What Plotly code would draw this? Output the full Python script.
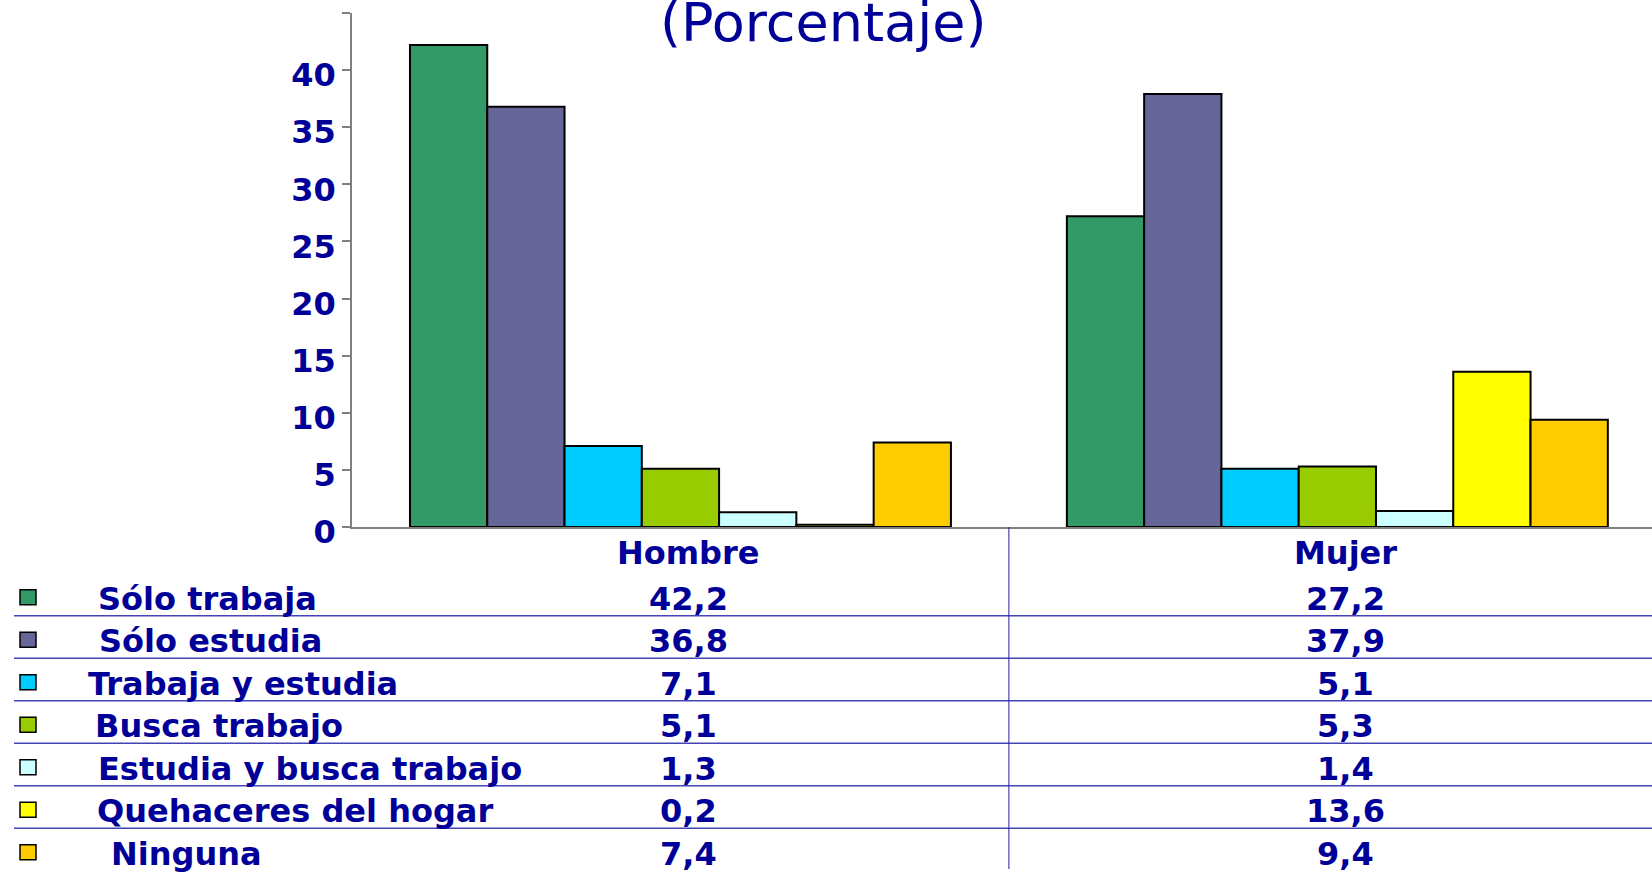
import plotly.graph_objects as go

# ---------------- data ----------------
categories = ["Hombre", "Mujer"]
series_names = ["Sólo trabaja", "Sólo estudia", "Trabaja y estudia", "Busca trabajo",
                "Estudia y busca trabajo", "Quehaceres del hogar", "Ninguna"]
hombre = [42.2, 36.8, 7.1, 5.1, 1.3, 0.2, 7.4]
mujer = [27.2, 37.9, 5.1, 5.3, 1.4, 13.6, 9.4]
y_tick_vals = [0, 5, 10, 15, 20, 25, 30, 35, 40, 45]
y_tick_text = ["0", "5", "10", "15", "20", "25", "30", "35", "40", ""]
title_text = "(Porcentaje)"

# ---------------- style ----------------
colors = ["#339966", "#666699", "#00CCFF", "#99CC00", "#CCFFFF", "#FFFF00", "#FFCC00"]
label_x_px = [99, 100, 89, 96, 99, 98, 112]   # left edge of each row label (px)
NAVY = "#000099"
FONT = "DejaVu Sans"
W, H = 1652, 873
PLOT_L, PLOT_R, PLOT_T, PLOT_B = 352, 1652, 13, 527
CAT_STEP = 656.9                 # px between category centres
ROW0, ROW_STEP = 610.0, 42.5     # baseline of first table row, row spacing
FS = 32
TITLE_FS = 54


def px(x):
    return x / W


def py(y):
    return 1 - y / H


fig = go.Figure()
for i, name in enumerate(series_names):
    fig.add_trace(go.Bar(
        name=name, x=categories, y=[hombre[i], mujer[i]],
        marker=dict(color=colors[i], line=dict(color="black", width=2)),
        showlegend=False, hoverinfo="skip"))

x_end = -0.5 + (PLOT_R - PLOT_L) / CAT_STEP

annotations = []
shapes = []

# title (its first line lies above the visible area in the original)
annotations.append(dict(text=title_text, x=px(823), y=py(41 - 0.346 * TITLE_FS),
                        xref="paper", yref="paper", xanchor="center", yanchor="middle",
                        showarrow=False, font=dict(family=FONT, size=TITLE_FS, color=NAVY)))

bold = dict(family=FONT, size=FS, color=NAVY, weight="bold")
for k, name in enumerate(series_names):
    base = ROW0 + ROW_STEP * k
    yc = py(base - 0.346 * FS)
    annotations.append(dict(text=name, x=px(label_x_px[k] - 3), y=yc, xref="paper", yref="paper",
                            xanchor="left", yanchor="middle", showarrow=False, font=bold))
    for j, vals in enumerate([hombre, mujer]):
        annotations.append(dict(text=f"{vals[k]:.1f}".replace(".", ","), x=j, xshift=8, y=yc,
                                xref="x", yref="paper", xanchor="center", yanchor="middle",
                                showarrow=False, font=bold))
    # legend key square
    sq = base - 12.7
    shapes.append(dict(type="rect", xref="paper", yref="paper",
                       x0=px(20), x1=px(36), y0=py(sq + 7.5), y1=py(sq - 7.5),
                       fillcolor=colors[k], line=dict(color="black", width=1.5)))
    if k < len(series_names) - 1:
        shapes.append(dict(type="line", xref="paper", yref="paper",
                           x0=px(14), x1=1, y0=py(base + 5.7), y1=py(base + 5.7),
                           line=dict(color="#4444b4", width=1.5)))

# header (category names)
hdr_y = py(564.3 - 0.346 * FS)
for j, c in enumerate(categories):
    annotations.append(dict(text=c, x=j, xshift=8, y=hdr_y, xref="x", yref="paper",
                            xanchor="center", yanchor="middle", showarrow=False, font=bold))

# vertical divider of the data table
shapes.append(dict(type="line", xref="x", yref="paper", x0=0.5, x1=0.5,
                   y0=py(PLOT_B), y1=py(869), line=dict(color="#2020a0", width=1)))

fig.update_layout(
    width=W, height=H, autosize=False,
    margin=dict(l=0, r=0, t=0, b=0, autoexpand=False),
    paper_bgcolor="white", plot_bgcolor="white",
    barmode="group", bargap=0.1765, bargroupgap=0,
    showlegend=False,
    annotations=annotations, shapes=shapes,
    xaxis=dict(domain=[px(PLOT_L), 1], range=[-0.5, x_end], type="category",
               showline=True, linecolor="#808080", linewidth=1.5, automargin=False,
               showticklabels=False, ticks="", showgrid=False, zeroline=False),
    yaxis=dict(domain=[py(PLOT_B), py(PLOT_T)], range=[0, 45], automargin=False,
               tickvals=y_tick_vals, ticktext=y_tick_text,
               showline=True, linecolor="#808080", linewidth=1.5,
               ticks="outside", ticklen=8, tickcolor="#808080", tickwidth=1.5,
               tickfont=bold, ticklabelstandoff=0, ticklabelshift=5,
               showgrid=False, zeroline=False),
)

fig.write_html(
    "out.html",
    config={"displayModeBar": False, "responsive": False},
    post_script="document.body.style.margin='0';document.body.style.overflow='hidden';"
                "document.documentElement.style.overflow='hidden';",
)
